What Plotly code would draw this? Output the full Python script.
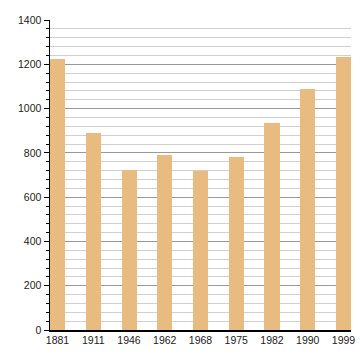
import plotly.graph_objects as go

years = ["1881", "1911", "1946", "1962", "1968", "1975", "1982", "1990", "1999"]
population = [1222, 890, 723, 790, 718, 781, 936, 1090, 1232]

fig = go.Figure(go.Bar(
    x=list(range(len(years))), y=population,
    marker=dict(color="#e8bb80", line=dict(width=0)),
    width=0.42,
))

fig.update_layout(
    width=360, height=360,
    margin=dict(l=50, r=9, t=20, b=30, autoexpand=False),
    paper_bgcolor="white", plot_bgcolor="white",
    showlegend=False,
    font=dict(family="Liberation Sans, Arial, sans-serif", size=10.5, color="#222"),
    bargap=0,
)
fig.update_xaxes(
    tickmode="array", tickvals=list(range(len(years))), ticktext=years,
    range=[-0.21, len(years) - 1 + 0.21],
    showline=True, linecolor="black", linewidth=1.5,
    showgrid=False, ticks="", zeroline=False, automargin=False,
)
fig.update_yaxes(
    range=[0, 1400], dtick=200, tick0=0,
    showline=True, linecolor="black", linewidth=1.5,
    ticks="outside", ticklen=5, tickcolor="black",
    showgrid=True, gridcolor="#999999", gridwidth=1,
    zeroline=False, automargin=False,
    minor=dict(dtick=40, tick0=0, showgrid=True, gridcolor="#d0d0d0", gridwidth=1,
               ticks="outside", ticklen=3, tickcolor="black"),
)

fig.write_html(
    "out.html",
    config={"displayModeBar": False, "staticPlot": True},
    post_script="document.body.style.margin='0';document.body.style.overflow='hidden';",
)
